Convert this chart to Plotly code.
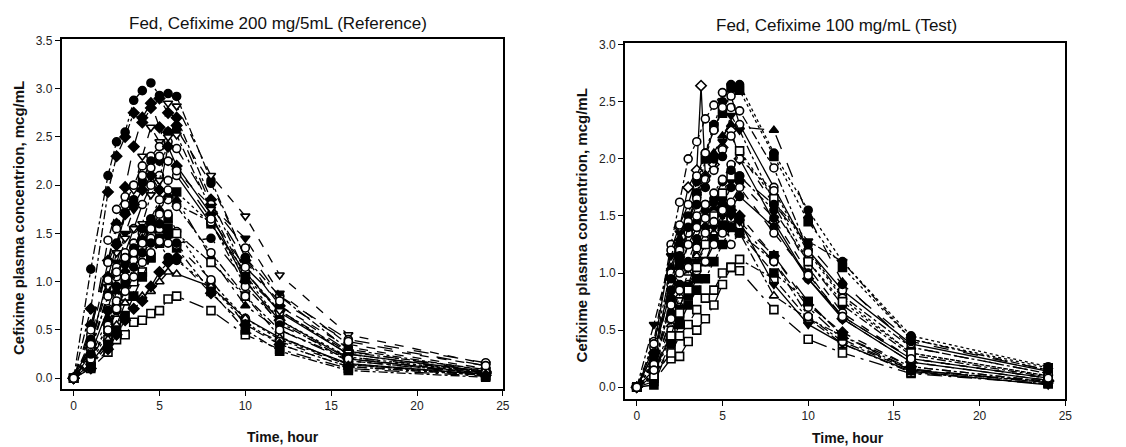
import plotly.graph_objects as go

# Sampling times (hours)
times = [0, 1, 2, 2.5, 3, 3.5, 4, 4.5, 5, 5.5, 6, 8, 10, 12, 16, 24]
times_r1 = [0, 1, 2, 2.5, 3, 3.5, 3.75, 4, 4.5, 5, 5.5, 6, 8, 10, 12, 16, 24]

# Reference panel (Fed, Cefixime 200 mg/5mL) – per-subject concentrations, mcg/mL
ref_L1 = [0, 1.13, 2.10, 2.45, 2.55, 2.88, 2.98, 3.06, 2.93, 2.95, 2.92, 2.05, 1.25, 0.85, 0.30, 0.08]
ref_L2 = [0, 0.72, 1.93, 2.30, 2.50, 2.75, 2.65, 2.80, 2.90, 2.75, 2.70, 1.85, 1.10, 0.70, 0.25, 0.06]
ref_L3 = [0, 0.55, 1.22, 1.60, 1.98, 2.40, 2.70, 2.85, 2.60, 2.55, 2.62, 1.80, 1.22, 0.75, 0.28, 0.07]
ref_L4 = [0, 0.35, 0.95, 1.30, 1.70, 1.95, 2.30, 2.60, 2.45, 2.85, 2.82, 2.10, 1.68, 1.07, 0.45, 0.15]
ref_L5 = [0, 0.45, 1.43, 1.75, 1.88, 2.00, 2.20, 2.30, 2.40, 2.45, 2.38, 1.80, 1.35, 0.85, 0.40, 0.16]
ref_L6 = [0, 0.30, 0.88, 1.20, 1.50, 1.75, 2.00, 2.10, 2.25, 2.25, 2.15, 1.78, 1.45, 0.88, 0.35, 0.13]
ref_L7 = [0, 0.40, 1.20, 1.40, 1.72, 1.85, 2.05, 2.25, 2.25, 2.55, 2.58, 2.02, 1.25, 0.75, 0.32, 0.10]
ref_L8 = [0, 0.25, 0.72, 1.05, 1.30, 1.55, 1.80, 2.00, 2.10, 2.05, 2.10, 1.60, 1.10, 0.68, 0.25, 0.07]
ref_L9 = [0, 0.35, 1.05, 1.38, 1.70, 1.80, 1.95, 2.10, 1.95, 2.40, 2.20, 1.70, 1.00, 0.60, 0.20, 0.05]
ref_L10 = [0, 0.28, 0.85, 1.10, 1.45, 1.55, 1.60, 1.90, 2.05, 2.50, 2.52, 1.75, 1.05, 0.70, 0.27, 0.09]
ref_L11 = [0, 0.20, 0.55, 0.75, 1.00, 1.25, 1.42, 1.55, 1.55, 1.65, 1.93, 1.60, 1.05, 0.60, 0.22, 0.06]
ref_L12 = [0, 0.30, 0.85, 1.15, 1.20, 1.40, 1.50, 1.65, 1.85, 1.85, 1.80, 1.62, 0.95, 0.58, 0.18, 0.05]
ref_L13 = [0, 0.22, 0.62, 0.90, 1.12, 1.30, 1.45, 1.62, 1.75, 1.90, 1.85, 1.25, 0.75, 0.50, 0.18, 0.04]
ref_L14 = [0, 0.18, 0.55, 0.80, 1.05, 1.22, 1.35, 1.45, 1.55, 1.70, 1.52, 1.00, 0.62, 0.40, 0.15, 0.03]
ref_L15 = [0, 0.12, 0.40, 0.60, 0.85, 1.00, 1.10, 1.25, 1.40, 1.50, 1.50, 1.20, 0.85, 0.43, 0.14, 0.03]
ref_L16 = [0, 0.15, 0.48, 0.70, 0.95, 1.15, 1.30, 1.40, 1.40, 1.25, 1.22, 0.95, 0.58, 0.35, 0.12, 0.03]
ref_L17 = [0, 0.15, 0.40, 0.55, 0.78, 0.85, 0.85, 0.90, 1.00, 1.10, 1.08, 0.95, 0.62, 0.42, 0.15, 0.04]
ref_L18 = [0, 0.10, 0.27, 0.40, 0.45, 0.58, 0.60, 0.67, 0.70, 0.82, 0.85, 0.70, 0.45, 0.30, 0.10, 0.02]
ref_L19 = [0, 0.12, 0.35, 0.50, 0.65, 0.85, 1.05, 1.25, 1.45, 1.55, 1.35, 0.90, 0.50, 0.28, 0.08, 0.01]
ref_L20 = [0, 0.20, 0.50, 0.72, 0.90, 1.05, 1.20, 1.30, 1.42, 1.40, 1.38, 1.02, 0.55, 0.38, 0.14, 0.04]
ref_L21 = [0, 0.25, 0.70, 0.95, 1.18, 1.35, 1.55, 1.65, 1.60, 1.48, 1.40, 1.45, 1.02, 0.55, 0.22, 0.07]
ref_L22 = [0, 0.35, 1.02, 1.10, 1.25, 1.30, 1.40, 1.55, 1.70, 1.95, 1.78, 1.30, 0.85, 0.50, 0.20, 0.06]
ref_L23 = [0, 0.10, 0.30, 0.45, 0.60, 0.72, 0.80, 0.95, 1.10, 1.20, 1.25, 0.88, 0.55, 0.35, 0.12, 0.03]
ref_L24 = [0, 0.50, 1.20, 1.55, 1.80, 2.00, 2.10, 2.18, 2.30, 2.25, 2.15, 1.65, 1.15, 0.80, 0.38, 0.13]

# Test panel (Fed, Cefixime 100 mg/mL)
test_R1 = [0, 0.30, 0.95, 1.40, 1.75, 1.90, 2.64, 1.85, 1.95, 2.10, 2.25, 2.00, 1.45, 0.95, 0.60, 0.22, 0.06]
test_R2 = [0, 0.40, 1.25, 1.62, 2.00, 2.15, 2.35, 2.47, 2.58, 2.45, 2.42, 1.92, 1.20, 0.80, 0.35, 0.12]
test_R3 = [0, 0.25, 0.95, 1.25, 1.50, 1.80, 2.05, 2.30, 2.50, 2.65, 2.65, 2.05, 1.55, 1.10, 0.45, 0.18]
test_R4 = [0, 0.15, 0.75, 1.10, 1.40, 1.70, 2.00, 2.28, 2.40, 2.62, 2.60, 2.02, 1.45, 1.05, 0.42, 0.17]
test_R5 = [0, 0.30, 1.05, 1.30, 1.45, 1.70, 1.85, 2.05, 2.20, 2.30, 2.28, 2.25, 1.50, 0.92, 0.35, 0.12]
test_R6 = [0, 0.35, 1.20, 1.42, 1.60, 1.85, 2.05, 2.25, 2.45, 2.55, 2.30, 1.75, 1.20, 0.85, 0.38, 0.14]
test_R7 = [0, 0.55, 1.15, 1.35, 1.50, 1.60, 1.80, 1.90, 2.15, 2.38, 2.25, 1.62, 1.28, 1.10, 0.42, 0.15]
test_R8 = [0, 0.22, 0.90, 1.20, 1.45, 1.65, 1.82, 1.90, 2.08, 2.20, 2.05, 1.60, 1.05, 0.65, 0.25, 0.08]
test_R9 = [0, 0.20, 0.78, 1.10, 1.35, 1.45, 1.60, 1.65, 1.80, 1.82, 1.85, 1.55, 1.10, 0.72, 0.28, 0.09]
test_R10 = [0, 0.05, 0.25, 0.27, 0.40, 0.50, 0.60, 0.72, 0.90, 1.05, 1.02, 0.68, 0.42, 0.30, 0.12, 0.03]
test_R11 = [0, 0.10, 0.30, 0.45, 0.55, 0.68, 0.78, 0.85, 1.00, 1.05, 1.12, 0.95, 0.60, 0.38, 0.13, 0.03]
test_R12 = [0, 0.30, 0.85, 1.05, 1.25, 1.40, 1.55, 1.62, 1.65, 1.58, 1.67, 1.40, 0.95, 0.62, 0.25, 0.08]
test_R13 = [0, 0.12, 0.55, 0.80, 1.00, 1.15, 1.25, 1.35, 1.40, 1.45, 1.35, 0.80, 0.60, 0.45, 0.18, 0.05]
test_R14 = [0, 0.18, 0.60, 0.85, 1.05, 1.25, 1.40, 1.50, 1.58, 1.55, 1.50, 1.15, 0.72, 0.48, 0.18, 0.05]
test_R15 = [0, 0.38, 1.00, 1.20, 1.35, 1.50, 1.60, 1.70, 1.82, 1.95, 2.00, 1.72, 1.18, 0.78, 0.30, 0.10]
test_R16 = [0, 0.02, 0.40, 0.60, 0.80, 0.95, 1.10, 1.30, 1.42, 1.50, 1.45, 1.15, 0.75, 0.45, 0.16, 0.04]
test_R17 = [0, 0.10, 0.50, 0.70, 0.90, 1.02, 1.10, 1.25, 1.35, 1.48, 1.42, 1.10, 0.70, 0.42, 0.15, 0.04]
test_R18 = [0, 0.22, 0.65, 0.90, 1.10, 1.30, 1.48, 1.55, 1.60, 1.75, 1.80, 1.48, 1.00, 0.60, 0.22, 0.06]
test_R19 = [0, 0.15, 0.45, 0.70, 0.90, 1.10, 1.25, 1.40, 1.50, 1.50, 1.45, 0.90, 0.55, 0.38, 0.14, 0.02]
test_R20 = [0, 0.20, 0.72, 1.00, 1.25, 1.40, 1.48, 1.52, 1.55, 1.25, 1.35, 1.10, 0.62, 0.40, 0.15, 0.05]
test_R21 = [0, 0.08, 0.38, 0.55, 0.72, 0.85, 0.95, 1.10, 1.25, 1.40, 1.35, 1.00, 0.75, 0.45, 0.15, 0.04]
test_R22 = [0, 0.10, 0.45, 0.65, 0.85, 1.05, 1.25, 1.50, 1.70, 1.85, 2.07, 1.65, 1.10, 0.75, 0.30, 0.10]
test_R23 = [0, 0.28, 0.95, 1.15, 1.40, 1.60, 1.75, 2.00, 2.02, 1.90, 1.85, 1.60, 1.25, 0.90, 0.40, 0.15]
test_R24 = [0, 0.15, 0.60, 0.85, 1.05, 1.22, 1.35, 1.45, 1.55, 1.62, 1.75, 1.35, 0.98, 0.62, 0.25, 0.08]

# Tick labels
x_ticks = [0, 5, 10, 15, 20, 25]
y_ticks_ref = [0.0, 0.5, 1.0, 1.5, 2.0, 2.5, 3.0, 3.5]
y_ticks_test = [0.0, 0.5, 1.0, 1.5, 2.0, 2.5, 3.0]

# (times, values, marker symbol, open?, dash)
ref_series = [
    (times, ref_L1, "circle", False, "dashdot"),
    (times, ref_L2, "diamond", False, "dashdot"),
    (times, ref_L3, "diamond", False, "longdash"),
    (times, ref_L4, "triangle-down", True, "dash"),
    (times, ref_L5, "circle", True, "longdash"),
    (times, ref_L6, "triangle-down", False, "dash"),
    (times, ref_L7, "circle", False, "dash"),
    (times, ref_L8, "circle", True, "solid"),
    (times, ref_L9, "diamond", False, "solid"),
    (times, ref_L10, "triangle-down", True, "dashdot"),
    (times, ref_L11, "square", False, "dot"),
    (times, ref_L12, "circle", True, "dashdot"),
    (times, ref_L13, "triangle-up", False, "longdashdot"),
    (times, ref_L14, "circle", True, "dot"),
    (times, ref_L15, "square", True, "dashdot"),
    (times, ref_L16, "circle", False, "dot"),
    (times, ref_L17, "triangle-up", True, "solid"),
    (times, ref_L18, "square", True, "longdashdot"),
    (times, ref_L19, "square", False, "dashdot"),
    (times, ref_L20, "circle", True, "dash"),
    (times, ref_L21, "circle", False, "longdash"),
    (times, ref_L22, "circle", True, "dashdot"),
    (times, ref_L23, "diamond", False, "dash"),
    (times, ref_L24, "circle", True, "longdash"),
]
test_series = [
    (times_r1, test_R1, "diamond", True, "solid"),
    (times, test_R2, "circle", True, "dashdot"),
    (times, test_R3, "circle", False, "dot"),
    (times, test_R4, "square", False, "dot"),
    (times, test_R5, "triangle-up", False, "longdash"),
    (times, test_R6, "circle", True, "solid"),
    (times, test_R7, "triangle-down", False, "dashdot"),
    (times, test_R8, "circle", True, "dash"),
    (times, test_R9, "circle", False, "dashdot"),
    (times, test_R10, "square", True, "longdashdot"),
    (times, test_R11, "square", True, "dashdot"),
    (times, test_R12, "circle", False, "solid"),
    (times, test_R13, "triangle-up", True, "dashdot"),
    (times, test_R14, "diamond", False, "dash"),
    (times, test_R15, "circle", True, "dot"),
    (times, test_R16, "square", False, "longdash"),
    (times, test_R17, "circle", True, "longdashdot"),
    (times, test_R18, "circle", False, "dash"),
    (times, test_R19, "triangle-down", False, "solid"),
    (times, test_R20, "circle", True, "dashdot"),
    (times, test_R21, "square", False, "dashdot"),
    (times, test_R22, "square", True, "dot"),
    (times, test_R23, "circle", False, "longdash"),
    (times, test_R24, "circle", True, "dash"),
]

fig = go.Figure()

def add_series(series, xa, ya):
    for t, v, sym, is_open, dash in series:
        fig.add_trace(go.Scatter(
            x=t, y=v, mode="lines+markers", xaxis=xa, yaxis=ya,
            line=dict(color="black", width=1.3, dash=dash),
            marker=dict(symbol=sym, size=8,
                        color="white" if is_open else "black",
                        line=dict(color="black", width=1.6)),
            showlegend=False, hoverinfo="x+y"))

add_series(ref_series, "x", "y")
add_series(test_series, "x2", "y2")

FONT = "Liberation Sans, Arial, sans-serif"
tickfont = dict(family=FONT, size=12, color="#222")

axis_common = dict(showline=True, linecolor="black", linewidth=1.8, mirror=True,
                   ticks="outside", ticklen=5, tickwidth=1.4, tickcolor="black",
                   showgrid=False, zeroline=False, tickfont=tickfont)

fig.update_layout(
    width=1126, height=447,
    margin=dict(l=0, r=0, t=0, b=0),
    paper_bgcolor="white", plot_bgcolor="white",
    xaxis=dict(domain=[62/1126, 506/1126], range=[-0.7, 25], tickvals=x_ticks,
               anchor="y", **axis_common),
    yaxis=dict(domain=[1-388/447, 1-33/447], range=[-0.11, 3.52], tickvals=y_ticks_ref,
               tickformat=".1f", anchor="x", **axis_common),
    xaxis2=dict(domain=[629/1126, 1072/1126], range=[-0.68, 25], tickvals=x_ticks,
                anchor="y2", **axis_common),
    yaxis2=dict(domain=[1-398/447, 1-38/447], range=[-0.1, 3.01], tickvals=y_ticks_test,
                tickformat=".1f", anchor="x2", **axis_common),
    annotations=[
        dict(text="Fed, Cefixime 200 mg/5mL (Reference)", x=280/1126, y=1-18/447,
             xref="paper", yref="paper", showarrow=False,
             font=dict(family=FONT, size=17, color="#111"), xanchor="center", yanchor="middle"),
        dict(text="Fed, Cefixime 100 mg/mL (Test)", x=842/1126, y=1-20/447,
             xref="paper", yref="paper", showarrow=False,
             font=dict(family=FONT, size=17, color="#111"), xanchor="center", yanchor="middle"),
        dict(text="<b>Time, hour</b>", x=285/1126, y=1-437/447,
             xref="paper", yref="paper", showarrow=False,
             font=dict(family=FONT, size=14, color="#111"), xanchor="center", yanchor="middle"),
        dict(text="<b>Time, hour</b>", x=853/1126, y=1-438/447,
             xref="paper", yref="paper", showarrow=False,
             font=dict(family=FONT, size=14, color="#111"), xanchor="center", yanchor="middle"),
        dict(text="<b>Cefixime plasma concentrion, mcg/mL</b>", x=18/1126, y=1-215/447,
             xref="paper", yref="paper", showarrow=False, textangle=-90,
             font=dict(family=FONT, size=15, color="#111"), xanchor="center", yanchor="middle"),
        dict(text="<b>Cefixime plasma concentrion, mcg/mL</b>", x=585/1126, y=1-222/447,
             xref="paper", yref="paper", showarrow=False, textangle=-90,
             font=dict(family=FONT, size=15, color="#111"), xanchor="center", yanchor="middle"),
    ],
)

fig.write_html(
    "out.html",
    config={"displayModeBar": False},
    post_script="document.body.style.margin='0';document.body.style.padding='0';document.body.style.overflow='hidden';",
)
